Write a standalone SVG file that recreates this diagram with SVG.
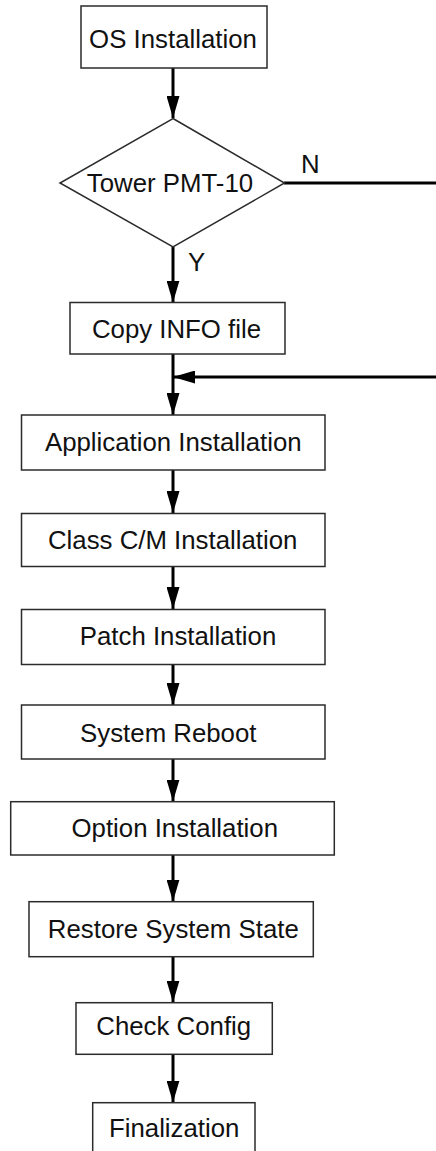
<svg xmlns="http://www.w3.org/2000/svg" width="436" height="1151" viewBox="0 0 436 1151">
<style>
.box{fill:#fff;stroke:#2b2b2b;stroke-width:1.5}
.t{font-family:"Liberation Sans",Arial,sans-serif;font-size:25.8px;fill:#111;text-anchor:middle}
.l{font-family:"Liberation Sans",Arial,sans-serif;font-size:25.8px;fill:#111}
.c{stroke:#000;stroke-width:3;fill:none}
</style>
<defs>
<marker id="ah" viewBox="0 0 22 13" refX="22" refY="6.5" markerWidth="22" markerHeight="13" markerUnits="userSpaceOnUse" orient="auto">
<path d="M0,0 L22,6.5 L0,13 Z" fill="#000"/>
</marker>
</defs>
<rect width="436" height="1151" fill="#fff"/>
<g id="connectors">
<line class="c" x1="173" y1="68" x2="173" y2="118" marker-end="url(#ah)"/>
<line class="c" x1="173" y1="247" x2="173" y2="302.5" marker-end="url(#ah)"/>
<line class="c" x1="173" y1="354" x2="173" y2="415" marker-end="url(#ah)"/>
<line class="c" x1="284" y1="183" x2="436" y2="183"/>
<line class="c" x1="436" y1="377" x2="173" y2="377" marker-end="url(#ah)"/>
<line class="c" x1="173" y1="470" x2="173" y2="513" marker-end="url(#ah)"/>
<line class="c" x1="173" y1="567" x2="173" y2="609" marker-end="url(#ah)"/>
<line class="c" x1="173" y1="664" x2="173" y2="705" marker-end="url(#ah)"/>
<line class="c" x1="173" y1="759" x2="173" y2="801.5" marker-end="url(#ah)"/>
<line class="c" x1="173" y1="855" x2="173" y2="901.5" marker-end="url(#ah)"/>
<line class="c" x1="173" y1="957" x2="173" y2="1002.5" marker-end="url(#ah)"/>
<line class="c" x1="173" y1="1054" x2="173" y2="1102.5" marker-end="url(#ah)"/>
<text class="l" x="301" y="173">N</text>
<text class="l" x="188" y="271">Y</text>
</g>
<g id="os"><rect class="box" x="81" y="6" width="186" height="62"/><text class="t" x="173" y="48">OS Installation</text></g>
<g id="tower"><polygon class="box" points="173,118.5 284.5,183 173,247 60,183"/><text class="t" x="170" y="191.5">Tower PMT-10</text></g>
<g id="copy"><rect class="box" x="70" y="302.5" width="215" height="51.5"/><text class="t" x="176.5" y="338">Copy INFO file</text></g>
<g id="app"><rect class="box" x="21.5" y="415" width="303.5" height="55"/><text class="t" x="173.3" y="451">Application Installation</text></g>
<g id="class"><rect class="box" x="21.5" y="513.5" width="303.5" height="53"/><text class="t" x="172.7" y="549">Class C/M Installation</text></g>
<g id="patch"><rect class="box" x="21.5" y="609.5" width="303.5" height="55"/><text class="t" x="178" y="645">Patch Installation</text></g>
<g id="reboot"><rect class="box" x="21.5" y="705" width="303.5" height="54"/><text class="t" x="168.3" y="741.5">System Reboot</text></g>
<g id="option"><rect class="box" x="10.7" y="801.7" width="323.6" height="53.3"/><text class="t" x="174.8" y="836.5">Option Installation</text></g>
<g id="restore"><rect class="box" x="29" y="901.7" width="284.3" height="55"/><text class="t" x="173.3" y="938">Restore System State</text></g>
<g id="check"><rect class="box" x="76" y="1002.7" width="196.3" height="51.6"/><text class="t" x="173.7" y="1035">Check Config</text></g>
<g id="final"><rect class="box" x="92.7" y="1102.7" width="162.3" height="60"/><text class="t" x="174.2" y="1137">Finalization</text></g>
</svg>
